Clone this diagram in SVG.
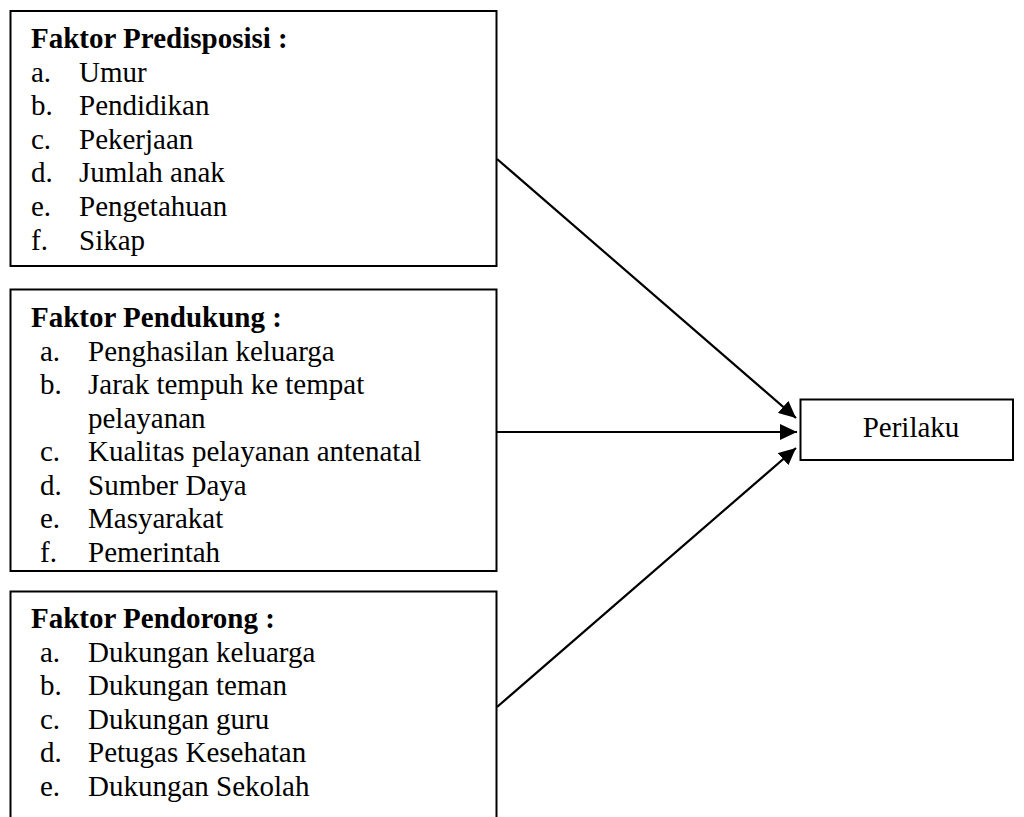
<svg xmlns="http://www.w3.org/2000/svg" width="1024" height="817" viewBox="0 0 1024 817">
<defs>
<style>
.box{fill:#fff;stroke:#000;stroke-width:2}
.t{font-family:"Liberation Serif","Times New Roman",serif;font-size:29px;fill:#000}
.b{font-weight:bold}
.c{stroke:#000;stroke-width:2.2;fill:none;marker-end:url(#ah)}
</style>
<marker id="ah" markerUnits="userSpaceOnUse" markerWidth="17" markerHeight="16" refX="17" refY="8" orient="auto">
<path d="M0,0 L17,8 L0,16 z" fill="#000"/>
</marker>
</defs>
<rect width="1024" height="817" fill="#fff"/>
<g id="predisposisi">
<rect class="box" x="10.5" y="11" width="486" height="255"/>
<text class="t b" x="31" y="48">Faktor Predisposisi :</text>
<text class="t" x="31" y="81.6">a.</text><text class="t" x="79" y="81.6">Umur</text>
<text class="t" x="31" y="115.2">b.</text><text class="t" x="79" y="115.2">Pendidikan</text>
<text class="t" x="31" y="148.8">c.</text><text class="t" x="79" y="148.8">Pekerjaan</text>
<text class="t" x="31" y="182.4">d.</text><text class="t" x="79" y="182.4">Jumlah anak</text>
<text class="t" x="31" y="216">e.</text><text class="t" x="79" y="216">Pengetahuan</text>
<text class="t" x="31" y="249.6">f.</text><text class="t" x="79" y="249.6">Sikap</text>
</g>
<g id="pendukung">
<rect class="box" x="10.5" y="289.5" width="486" height="281.5"/>
<text class="t b" x="31" y="327">Faktor Pendukung :</text>
<text class="t" x="40" y="360.5">a.</text><text class="t" x="88" y="360.5">Penghasilan keluarga</text>
<text class="t" x="40" y="394">b.</text><text class="t" x="88" y="394">Jarak tempuh ke tempat</text>
<text class="t" x="88" y="427.5">pelayanan</text>
<text class="t" x="40" y="461">c.</text><text class="t" x="88" y="461">Kualitas pelayanan antenatal</text>
<text class="t" x="40" y="494.5">d.</text><text class="t" x="88" y="494.5">Sumber Daya</text>
<text class="t" x="40" y="528">e.</text><text class="t" x="88" y="528">Masyarakat</text>
<text class="t" x="40" y="561.5">f.</text><text class="t" x="88" y="561.5">Pemerintah</text>
</g>
<g id="pendorong">
<path class="box" d="M10.5,820 V591.5 H496.5 V820"/>
<text class="t b" x="31" y="628">Faktor Pendorong :</text>
<text class="t" x="40" y="661.5">a.</text><text class="t" x="88" y="661.5">Dukungan keluarga</text>
<text class="t" x="40" y="695">b.</text><text class="t" x="88" y="695">Dukungan teman</text>
<text class="t" x="40" y="728.5">c.</text><text class="t" x="88" y="728.5">Dukungan guru</text>
<text class="t" x="40" y="762">d.</text><text class="t" x="88" y="762">Petugas Kesehatan</text>
<text class="t" x="40" y="795.5">e.</text><text class="t" x="88" y="795.5">Dukungan Sekolah</text>
</g>
<g id="perilaku">
<rect class="box" x="800.5" y="399.5" width="212.5" height="60.5"/>
<text class="t" x="911" y="437" text-anchor="middle">Perilaku</text>
</g>
<g id="connectors">
<line class="c" x1="497" y1="159" x2="796" y2="418"/>
<line class="c" x1="497" y1="432" x2="797" y2="432"/>
<line class="c" x1="497" y1="707" x2="796" y2="448"/>
</g>
</svg>
